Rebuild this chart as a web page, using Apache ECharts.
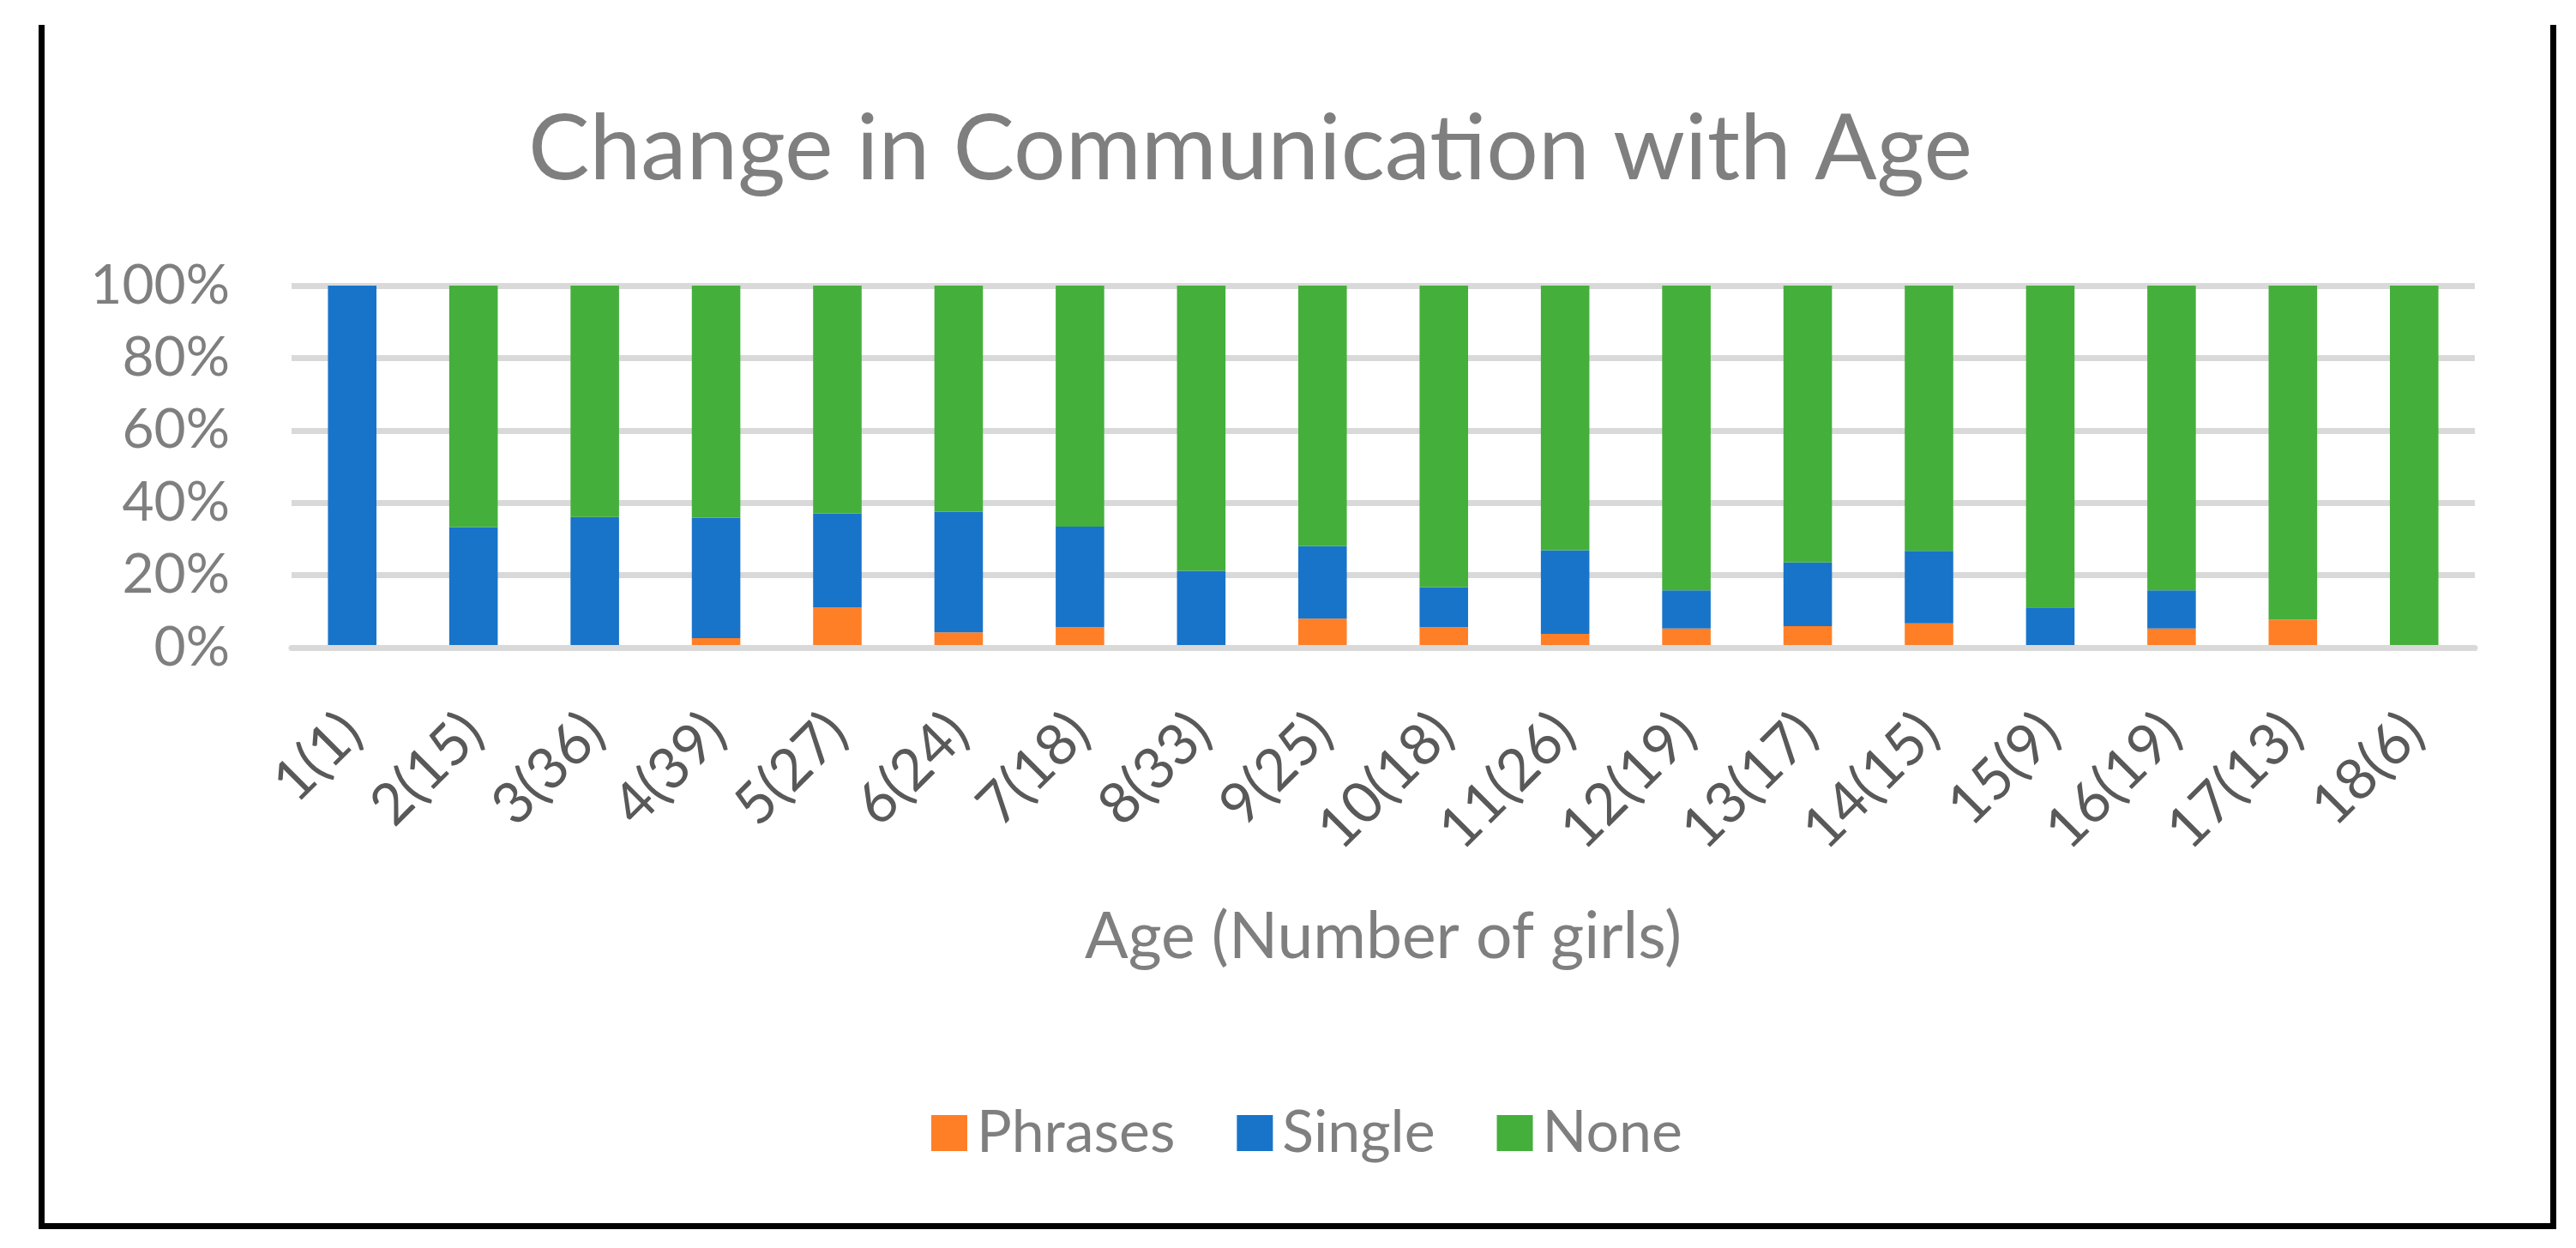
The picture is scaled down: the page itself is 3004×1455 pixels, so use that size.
<!DOCTYPE html>
<html>
<head>
<meta charset="utf-8">
<script src="https://cdn.jsdelivr.net/npm/echarts@6/dist/echarts.min.js"></script>
<style>
html,body{margin:0;padding:0;background:#fff;}
#c{width:3004px;height:1455px;}
</style>
</head>
<body>
<div id="c"></div>
<script>
const categories = ['1(1)','2(15)','3(36)','4(39)','5(27)','6(24)','7(18)','8(33)','9(25)','10(18)','11(26)','12(19)','13(17)','14(15)','15(9)','16(19)','17(13)','18(6)'];
const phrases = [0, 0, 0, 2.6, 11.1, 4.2, 5.6, 0, 8.0, 5.6, 3.8, 5.3, 5.9, 6.7, 0, 5.3, 7.7, 0];
const single  = [100, 33.3, 36.1, 33.3, 25.9, 33.3, 27.8, 21.2, 20.0, 11.1, 23.1, 10.5, 17.6, 20.0, 11.1, 10.5, 0, 0];
const none    = [0, 66.7, 63.9, 64.1, 63.0, 62.5, 66.7, 78.8, 72.0, 83.3, 73.1, 84.2, 76.5, 73.3, 88.9, 84.2, 92.3, 100];
const yTicks = [0, 20, 40, 60, 80, 100];

const FONT = 'Lato, "Open Sans", sans-serif';
const chart = echarts.init(document.getElementById('c'), null, {renderer: 'canvas'});
const option = {
  animation: false,
  backgroundColor: '#ffffff',
  title: {
    text: 'Change in Communication with Age',
    left: 1453, top: 116, textAlign: 'center',
    textStyle: {fontFamily: FONT, fontSize: 107, fontWeight: 'normal', color: '#7f7f7f'}
  },
  legend: {
    data: ['Phrases', 'Single', 'None'],
    left: 1086, top: 1287, padding: 0,
    itemWidth: 42, itemHeight: 42, itemGap: 72,
    icon: 'rect',
    textStyle: {fontFamily: FONT, fontSize: 68, color: '#7f7f7f', lineHeight: 42, padding: [0, 0, 0, 6]}
  },
  grid: {left: 340, right: 118, top: 333, bottom: 1455 - 755, containLabel: false},
  xAxis: {
    type: 'category',
    data: categories,
    z: 3,
    name: 'Age (Number of girls)',
    nameLocation: 'middle',
    nameGap: 300,
    nameTextStyle: {fontFamily: FONT, fontSize: 75, color: '#7f7f7f'},
    axisLine: {show: true, lineStyle: {color: '#d9d9d9', width: 7}},
    axisTick: {show: false},
    axisLabel: {rotate: 45, margin: 88, fontFamily: FONT, fontSize: 67, color: '#595959', interval: 0}
  },
  yAxis: {
    type: 'value',
    min: yTicks[0], max: yTicks[yTicks.length - 1], interval: 20,
    axisLine: {show: false},
    axisTick: {show: false},
    axisLabel: {formatter: '{value}%', margin: 72, fontFamily: FONT, fontSize: 64, color: '#7f7f7f'},
    splitLine: {lineStyle: {color: '#d9d9d9', width: 7}}
  },
  series: [
    {name: 'Phrases', type: 'bar', stack: 'total', barWidth: '40%', data: phrases, itemStyle: {color: '#FF7F27'}},
    {name: 'Single', type: 'bar', stack: 'total', barWidth: '40%', data: single, itemStyle: {color: '#1874C9'}},
    {name: 'None', type: 'bar', stack: 'total', barWidth: '40%', data: none, itemStyle: {color: '#45AF3B'}}
  ],
  graphic: [
    {type: 'line', shape: {x1: 48.5, y1: 29, x2: 48.5, y2: 1432}, style: {stroke: '#000', lineWidth: 7}},
    {type: 'line', shape: {x1: 45, y1: 1429.5, x2: 2981, y2: 1429.5}, style: {stroke: '#000', lineWidth: 7}},
    {type: 'line', shape: {x1: 2977.5, y1: 29, x2: 2977.5, y2: 1432}, style: {stroke: '#000', lineWidth: 7}}
  ]
};
chart.setOption(option);
</script>
</body>
</html>
